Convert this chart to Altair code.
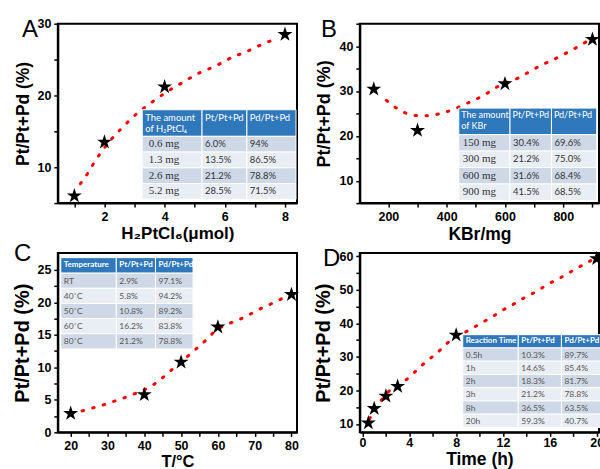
import altair as alt
import pandas as pd

# ---------------- data ----------------
# Panel A
a_x = [1, 2, 4, 8]
a_y = [6.0, 13.5, 21.2, 28.5]
a_fit_x = [1.2, 1.45, 1.68, 1.96, 2.25, 2.59, 2.95, 3.33, 3.69, 4.07, 4.43, 4.79, 5.18, 5.53, 5.92, 6.28, 6.67, 7.02, 7.39, 7.77]
a_fit_y = [7.7, 9.2, 10.8, 12.5, 14.0, 15.5, 17.0, 18.3, 19.4, 20.5, 21.4, 22.3, 23.2, 23.8, 24.6, 25.4, 26.0, 26.7, 27.4, 28.0]
a_head = ["The amount\nof H\u2082PtCl\u2086", "Pt/Pt+Pd", "Pd/Pt+Pd"]
a_c1 = ["0.6 mg", "1.3 mg", "2.6 mg", "5.2 mg"]
a_c2 = ["6.0%", "13.5%", "21.2%", "28.5%"]
a_c3 = ["94%", "86.5%", "78.8%", "71.5%"]

# Panel B
b_x = [150, 300, 600, 900]
b_y = [30.4, 21.2, 31.6, 41.5]
b_fit_x = [193, 230, 266, 303, 343, 383, 420, 457, 496, 534, 570, 608, 646, 684, 723, 763, 800, 837, 877]
b_fit_y = [27.9, 26.1, 24.9, 24.5, 24.5, 25.1, 25.8, 26.9, 28.0, 29.3, 30.8, 31.9, 32.9, 34.3, 35.7, 36.9, 38.1, 39.4, 40.9]
b_head = ["The amount\nof KBr", "Pt/Pt+Pd", "Pd/Pt+Pd"]
b_c1 = ["150 mg", "300 mg", "600 mg", "900 mg"]
b_c2 = ["30.4%", "21.2%", "31.6%", "41.5%"]
b_c3 = ["69.6%", "75.0%", "68.4%", "68.5%"]

# Panel C
c_x = [20, 40, 50, 60, 80]
c_y = [2.9, 5.8, 10.8, 16.2, 21.2]
c_fit_x = [23.1, 26.3, 29.3, 32.4, 35.4, 38.4, 41.3, 44.3, 47.4, 50.4, 53.4, 56.6, 59.5, 62.5, 65.6, 68.5, 71.5, 74.6, 77.5]
c_fit_y = [3.3, 3.8, 4.3, 4.9, 5.5, 6.2, 6.9, 8.1, 9.6, 11.0, 12.5, 14.1, 15.7, 16.6, 17.3, 18.1, 19.0, 19.8, 20.6]
c_head = ["Temperature", "Pt/Pt+Pd", "Pd/Pt+Pd"]
c_c1 = ["RT", "40\u02daC", "50\u02daC", "60\u02daC", "80\u02daC"]
c_c2 = ["2.9%", "5.8%", "10.8%", "16.2%", "21.2%"]
c_c3 = ["97.1%", "94.2%", "89.2%", "83.8%", "78.8%"]

# Panel D
d_x = [0.5, 1, 2, 3, 8, 20]
d_y = [10.3, 14.6, 18.3, 21.2, 36.5, 59.3]
d_fit_x = [0.6, 1.46, 2.45, 3.52, 4.5, 5.41, 6.34, 7.24, 9.2, 10.1, 11.1, 12.0, 13.0, 13.9, 14.9, 15.8, 16.8, 17.7, 18.6, 19.5]
d_fit_y = [11.5, 16.4, 20.4, 22.6, 25.6, 28.5, 31.1, 34.1, 38.2, 40.0, 42.0, 44.0, 45.9, 47.8, 49.6, 51.6, 53.4, 55.2, 57.0, 58.7]
d_head = ["Reaction Time", "Pt/Pt+Pd", "Pd/Pt+Pd"]
d_c1 = ["0.5h", "1h", "2h", "3h", "8h", "20h"]
d_c2 = ["10.3%", "14.6%", "18.3%", "21.2%", "36.5%", "59.3%"]
d_c3 = ["89.7%", "85.4%", "81.7%", "78.8%", "63.5%", "40.7%"]

# ---------------- styles ----------------
STAR = ("M0,-1L0.2245,-0.309L0.951,-0.309L0.363,0.118L0.588,0.809L0,0.382"
        "L-0.588,0.809L-0.363,0.118L-0.951,-0.309L-0.2245,-0.309Z")
HEAD_BLUE = "#2F78BB"
ROW_DARK = "#CFD8E7"
ROW_LIGHT = "#E9EDF4"
W, H = 240, 180
LEFT, TOP = 57, 22          # position of panel A's plot area in the page
COL_GAP, ROW_GAP = 63, 50   # gaps between plot areas
PAGE_W, PAGE_H = 600, 469


def pin(px, py):
    """Invisible 1px anchor that fixes the page bounds."""
    return alt.Chart(pd.DataFrame({"p": [0]})).mark_rect(opacity=0).encode(
        x=alt.value(px), x2=alt.value(px + 1), y=alt.value(py), y2=alt.value(py + 1))


def table(head, c1, c2, c3, left, top, widths, head_h, row_h, head_style, c1_style, body_style, pads):
    rects = []
    xs = [left, left + widths[0], left + widths[0] + widths[1]]
    for j in range(3):
        rects.append(dict(x0=xs[j], x1=xs[j] + widths[j], y0=top, y1=top + head_h, fill=HEAD_BLUE))
    for i in range(len(c1)):
        for j in range(3):
            y0 = top + head_h + i * row_h
            rects.append(dict(x0=xs[j], x1=xs[j] + widths[j], y0=y0, y1=y0 + row_h,
                              fill=ROW_DARK if i % 2 == 0 else ROW_LIGHT))
    rect_layer = alt.Chart(pd.DataFrame(rects)).mark_rect(stroke="white", strokeWidth=1).encode(
        x=alt.X("x0:Q", scale=None, axis=None), x2="x1:Q",
        y=alt.Y("y0:Q", scale=None, axis=None), y2="y1:Q",
        fill=alt.Fill("fill:N", scale=None, legend=None))
    head_df = pd.DataFrame({"px": [xs[j] + pads[0] for j in range(3)],
                            "py": [top + head_style["dy"]] * 3, "t": head})
    head_layer = alt.Chart(head_df).mark_text(
        align="left", baseline=head_style["baseline"], color="white", font=head_style["font"],
        fontSize=head_style["size"], fontWeight=head_style["weight"], lineBreak="\n",
        lineHeight=head_style.get("lh", 11)).encode(
        x=alt.X("px:Q", scale=None, axis=None), y=alt.Y("py:Q", scale=None, axis=None), text="t:N")
    ys = [top + head_h + (i + 0.5) * row_h for i in range(len(c1))]
    c1_df = pd.DataFrame({"px": [xs[0] + pads[1]] * len(c1), "py": ys, "t": c1})
    body_df = pd.DataFrame({"px": [xs[1] + pads[2]] * len(c2) + [xs[2] + pads[2]] * len(c3),
                            "py": ys + ys, "t": c2 + c3})
    c1_layer = alt.Chart(c1_df).mark_text(align="left", baseline="middle", **c1_style).encode(
        x=alt.X("px:Q", scale=None, axis=None), y=alt.Y("py:Q", scale=None, axis=None), text="t:N")
    body_layer = alt.Chart(body_df).mark_text(align="left", baseline="middle", **body_style).encode(
        x=alt.X("px:Q", scale=None, axis=None), y=alt.Y("py:Q", scale=None, axis=None), text="t:N")
    return [rect_layer, head_layer, c1_layer, body_layer]


def panel(letter, lpos, xs, ys, fx, fy, xdom, ydom, xvals, xmod, yvals, ymod,
          xtitle, ytitle_size, xtitle_size, xtitle_pad, xlabel_pad, tbl, extra=()):
    xaxis = alt.Axis(values=xvals, labelExpr=f"datum.value % {xmod} == 0 ? datum.label : ''",
                     title=xtitle, titleFontSize=xtitle_size, titlePadding=xtitle_pad,
                     labelPadding=xlabel_pad)
    yaxis = alt.Axis(values=yvals, labelExpr=f"datum.value % {ymod} == 0 ? datum.label : ''",
                     title="Pt/Pt+Pd (%)", titleFontSize=ytitle_size, titlePadding=5)
    xsc = alt.Scale(domain=xdom, nice=False, zero=False)
    ysc = alt.Scale(domain=ydom, nice=False, zero=False)
    fit = alt.Chart(pd.DataFrame({"x": fx, "y": fy})).mark_line(
        color="#FF0000", strokeWidth=3, strokeDash=[1.5, 9.5], strokeCap="round",
        interpolate="monotone").encode(
        x=alt.X("x:Q", scale=xsc, axis=xaxis), y=alt.Y("y:Q", scale=ysc, axis=yaxis))
    pts = alt.Chart(pd.DataFrame({"x": xs, "y": ys})).mark_point(
        shape=STAR, size=250, filled=True, color="black", opacity=1).encode(
        x=alt.X("x:Q", scale=xsc, axis=xaxis), y=alt.Y("y:Q", scale=ysc, axis=yaxis))
    lab = alt.Chart(pd.DataFrame({"t": [letter]})).mark_text(
        align="left", baseline="alphabetic", fontSize=24, font="Liberation Sans", color="black").encode(
        x=alt.value(lpos[0]), y=alt.value(lpos[1]), text="t:N")
    layers = [fit] + tbl + [pts, lab] + list(extra)
    return alt.layer(*layers).properties(width=W, height=H)


serif_body = dict(font="Liberation Serif", fontSize=11, color="#333333")
sans_body = dict(font="Lato", fontSize=9.5, color="#333333")
small_body = dict(font="Lato", fontSize=8.5, color="#555555")

tA = table(a_head, a_c1, a_c2, a_c3, 84.7, 86.3, [60, 45, 49.3], 26.7, 15.8,
           dict(dy=3, baseline="top", font="Lato", size=9.5, weight="normal"),
           serif_body, sans_body, (3, 6.5, 3))
tB = table(b_head, b_c1, b_c2, b_c3, 99.3, 84.7, [51.4, 41.6, 45.4], 26.6, 16.5,
           dict(dy=3, baseline="top", font="Lato", size=9, weight="normal"),
           serif_body, sans_body, (2.5, 4, 3))
tC = table(c_head, c_c1, c_c2, c_c3, 3, 4.7, [55.7, 39.3, 37.7], 15.6, 15.2,
           dict(dy=7.8, baseline="middle", font="Lato", size=8, weight="bold"),
           small_body, small_body, (3, 3, 3))
tD = table(d_head, d_c1, d_c2, d_c3, 103.3, 82, [55.7, 43.3, 50], 13.3, 13.3,
           dict(dy=6.7, baseline="middle", font="Lato", size=8, weight="bold"),
           small_body, small_body, (3, 3, 3))

# anchors: top-left corner of the page, and a point beyond the bottom-right corner
col2_left = LEFT + W + COL_GAP
row2_top = TOP + H + ROW_GAP
br_x = W + 12          # relative to panel D
br_y = H + 44
pad_right = PAGE_W - (col2_left + br_x + 1)
pad_bottom = PAGE_H - (row2_top + br_y + 1)

pA = panel("A", (-36, 13), a_x, a_y, a_fit_x, a_fit_y, [0.45, 8.4], [5, 30],
           list(range(1, 9)), 2, [5, 10, 15, 20, 25, 30], 10,
           "H\u2082PtCl\u2086(\u03bcmol)", 17.5, 17, 3, 3, tA, extra=[pin(-LEFT, -TOP)])
pB = panel("B", (-39, 13), b_x, b_y, b_fit_x, b_fit_y, [102, 922.5], [5, 45],
           list(range(100, 901, 100)), 200, list(range(5, 46, 5)), 10,
           "KBr/mg", 18, 17.5, 3, 3, tB)
pC = panel("C", (-44, 8), c_x, c_y, c_fit_x, c_fit_y, [16.5, 81.5], [0, 27.6],
           list(range(20, 81, 5)), 10, [v * 2.5 for v in range(0, 11)], 5,
           "T/\u00b0C", 20, 16.5, 2, 3, tC)
pD = panel("D", (-37, 13), d_x, d_y, d_fit_x, d_fit_y, [-0.23, 20.2], [7.5, 61],
           list(range(0, 21, 2)), 4, list(range(10, 61, 5)), 10,
           "Time (h)", 20, 17.5, 2, 0, tD, extra=[pin(br_x, br_y)])

chart = alt.concat(pA, pB, pC, pD, columns=2, spacing={"row": ROW_GAP, "column": COL_GAP}).properties(
    bounds="flush", background="white",
    padding={"left": 0, "top": 0, "right": pad_right, "bottom": pad_bottom}
).configure_view(stroke="black", strokeWidth=2).configure_axis(
    domainColor="black", domainWidth=2, tickColor="black", tickWidth=1.5, tickSize=4,
    labelFont="Liberation Sans", labelFontWeight="bold", labelFontSize=12.5, labelColor="black",
    labelPadding=3, titleFont="Liberation Sans", titleFontWeight="bold", titleColor="black",
    grid=False
)

chart.save("out.html", embed_options={"renderer": "svg", "actions": False})
